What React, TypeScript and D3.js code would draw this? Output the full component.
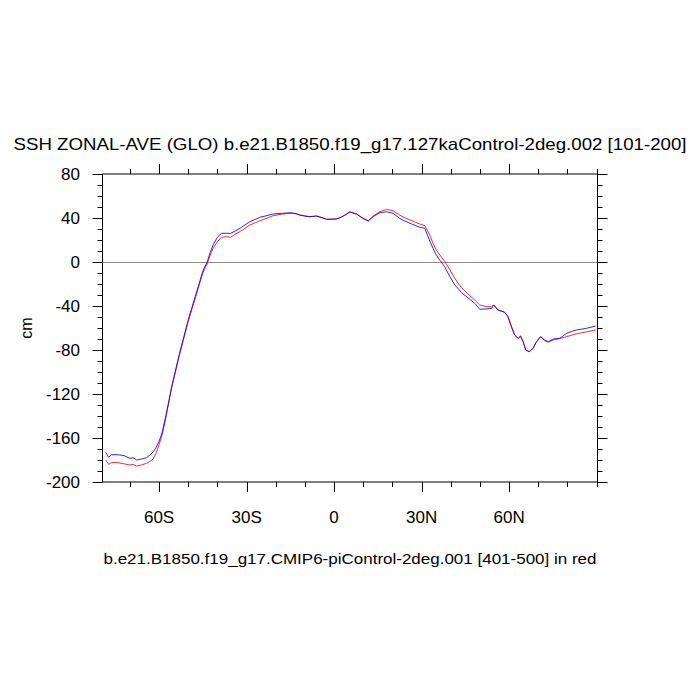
import React, { useEffect, useRef } from "react"
import * as d3 from "d3"

const TITLE = "SSH ZONAL-AVE (GLO) b.e21.B1850.f19_g17.127kaControl-2deg.002 [101-200]"
const X_TITLE = "b.e21.B1850.f19_g17.CMIP6-piControl-2deg.001 [401-500] in red"
const Y_TITLE = "cm"

const lats = [
    -78.3, -77.3, -76.3, -74, -72, -70, -68.9, -67.7, -66, -64.3, -63, -62, -61, -60, -59, -58, -57, -55.7,
    -53, -50, -48.3, -46.6, -45, -43.5, -42.5, -41.5, -40, -38.6, -37, -35.5, -34, -32.3, -30.5, -28.9,
    -27, -25.5, -23, -21, -18, -15, -13, -11.8, -10, -8.3, -6, -4, -2.6, 0.8, 2.5, 3.7, 5.4, 7.7, 9.9,
    11.7, 13.4, 15.7, 18, 20.2, 22.5, 24, 26, 28, 29.4, 31.1, 32.8, 33.9, 35, 36.2, 37.9, 39.7, 41.4,
    43.7, 46.5, 48.2, 49.9, 52.2, 54, 54.7, 56.2, 58.5, 59.6, 60.8, 61.9, 63.1, 63.9, 64.8, 65.7, 66.9,
    68.2, 69.4, 70.8, 72.2, 73.4, 75.1, 77.4, 79.7, 81.5, 83.1, 86.5, 89.7,
]

// 127ka control (blue)
const sshCase = [
    -173, -177.5, -175.2, -175.2, -176, -178.5, -177.9, -180, -179.1, -177.9, -175.2, -172.5, -168.4, -163,
    -155.5, -143.6, -131, -113.4, -83, -52.5, -37.5, -22.5, -8.2, 0, 8.5, 15.5, 22.5, 26.1, 26.1, 26, 28,
    30.6, 33.8, 36.6, 38.8, 40.6, 42.2, 43.6, 44.2, 44.8, 44, 42.7, 41.8, 41.2, 41.8, 40.2, 38.8, 39.1,
    40.8, 42.7, 45.7, 43.6, 39.7, 37.3, 41.2, 44.8, 45.7, 44.3, 39.7, 37.5, 35.2, 33, 31.5, 30.6, 19, 12.5,
    6.5, 1.8, -4.3, -13.4, -20.9, -27.9, -33.9, -37.5, -43, -42.7, -42.1, -39.1, -43.6, -45.7, -49.7,
    -58.8, -66.4, -69.4, -67.3, -72.4, -80, -81.5, -78.5, -72.4, -67.9, -70.9, -72.4, -70, -69.4, -64.8,
    -63, -61.8, -60.3, -58.2,
]

// piControl (red)
const sshCtrl = [
    -180, -184, -182.4, -182.4, -183.5, -184.5, -184, -185.5, -184.5, -183, -181, -179, -173.5, -166,
    -157.5, -146, -132, -114.5, -84.5, -54, -39, -24, -10, -1.5, 6, 12.5, 18.5, 22.5, 23, 22.5, 25, 27.6,
    30.6, 33.6, 35.7, 37.5, 39.8, 42, 43.5, 44.3, 43.8, 42.7, 41.8, 41.2, 41.8, 40.2, 38.8, 39.1, 40.8,
    42.5, 45.2, 43.6, 39.7, 37.3, 41.8, 45.7, 47.9, 46.6, 42.7, 40.5, 38.2, 36, 34.5, 33, 24.5, 17, 11,
    6.5, 0.5, -7, -15, -23.5, -30.5, -34.5, -39, -40.6, -40.6, -39.1, -43.6, -45.7, -49.7, -58.8, -66.4,
    -69.4, -67.3, -72.4, -80, -81.5, -78.5, -72.4, -67.9, -71.5, -72.8, -70.9, -69.5, -67.9, -66.5, -65.3,
    -63.5, -61.8,
]

const xMajor = [-60, -30, 0, 30, 60]
const xMajorLabels = ["60S", "30S", "0", "30N", "60N"]
const xMinor = [-70, -50, -40, -20, -10, 10, 20, 40, 50, 70, 80, 90]
const yMajor = [-200, -160, -120, -80, -40, 0, 40, 80]

const FONT = "'Liberation Sans', Arial, Helvetica, sans-serif"

const App = () => {
    const chartRef = useRef<SVGSVGElement | null>(null)

    useEffect(() => {
        if (!chartRef.current) return
        const svg = d3.select(chartRef.current)
        svg.selectAll("*").remove()

        const plot = { left: 102.5, right: 597.5, top: 174, bottom: 482 }

        const x = d3.scaleLinear().domain([-79.4, 90.3]).range([plot.left, plot.right])
        const y = d3.scaleLinear().domain([-200, 80]).range([plot.bottom, plot.top])

        const yMinor = d3.range(-200, 81, 10).filter((v) => v % 40 !== 0)

        // zero reference line
        svg.append("line")
            .attr("x1", plot.left)
            .attr("x2", plot.right)
            .attr("y1", Math.round(y(0)) + 0.5)
            .attr("y2", Math.round(y(0)) + 0.5)
            .attr("stroke", "#8c8c8c")
            .attr("stroke-width", 1)

        const line = d3
            .line<number>()
            .x((d, i) => x(lats[i]))
            .y((d) => y(d))

        svg.append("path")
            .datum(sshCtrl)
            .attr("d", line)
            .attr("fill", "none")
            .attr("stroke", "#ff0000")
            .attr("stroke-width", 0.85)

        svg.append("path")
            .datum(sshCase)
            .attr("d", line)
            .attr("fill", "none")
            .attr("stroke", "#0000ff")
            .attr("stroke-width", 0.85)

        // frame
        svg.append("rect")
            .attr("x", plot.left)
            .attr("y", plot.top)
            .attr("width", plot.right - plot.left)
            .attr("height", plot.bottom - plot.top)
            .attr("fill", "none")
            .attr("stroke", "#000")
            .attr("stroke-width", 1)

        const ticks = svg.append("g").attr("stroke", "#000").attr("stroke-width", 1)
        const major = 10
        const minor = 5

        // x ticks, top and bottom, outward
        const xTick = (v: number, len: number) => {
            const px = Math.round(x(v)) + 0.5
            ticks.append("line").attr("x1", px).attr("x2", px).attr("y1", plot.bottom).attr("y2", plot.bottom + len)
            ticks.append("line").attr("x1", px).attr("x2", px).attr("y1", plot.top).attr("y2", plot.top - len)
        }
        xMajor.forEach((v) => xTick(v, major))
        xMinor.forEach((v) => xTick(v, minor))

        // y ticks, left and right, outward
        const yTick = (v: number, len: number) => {
            const py = Math.round(y(v)) + 0.5
            ticks.append("line").attr("x1", plot.left).attr("x2", plot.left - len).attr("y1", py).attr("y2", py)
            ticks.append("line").attr("x1", plot.right).attr("x2", plot.right + len).attr("y1", py).attr("y2", py)
        }
        yMajor.forEach((v) => yTick(v, major))
        yMinor.forEach((v) => yTick(v, minor))

        const labels = svg.append("g").attr("font-family", FONT).attr("fill", "#000")

        labels.selectAll(".xl")
            .data(xMajor)
            .enter()
            .append("text")
            .attr("x", (d) => x(d))
            .attr("y", 523)
            .attr("text-anchor", "middle")
            .attr("font-size", "17px")
            .text((d, i) => xMajorLabels[i])

        labels.selectAll(".yl")
            .data(yMajor)
            .enter()
            .append("text")
            .attr("x", 80)
            .attr("y", (d) => y(d) + 6)
            .attr("text-anchor", "end")
            .attr("font-size", "17px")
            .text((d) => String(d))

        labels.append("text")
            .attr("x", 350)
            .attr("y", 150)
            .attr("text-anchor", "middle")
            .attr("font-size", "17px")
            .attr("textLength", 673)
            .attr("lengthAdjust", "spacingAndGlyphs")
            .text(TITLE)

        labels.append("text")
            .attr("x", 350)
            .attr("y", 564)
            .attr("text-anchor", "middle")
            .attr("font-size", "15px")
            .attr("textLength", 493)
            .attr("lengthAdjust", "spacingAndGlyphs")
            .text(X_TITLE)

        labels.append("text")
            .attr("transform", "translate(32,328) rotate(-90)")
            .attr("text-anchor", "middle")
            .attr("font-size", "16px")
            .text(Y_TITLE)
    }, [])

    return (
        <svg
            ref={chartRef}
            width={700}
            height={700}
            style={{ position: "absolute", left: 0, top: 0, background: "#fff" }}
        />
    )
}

export default App
